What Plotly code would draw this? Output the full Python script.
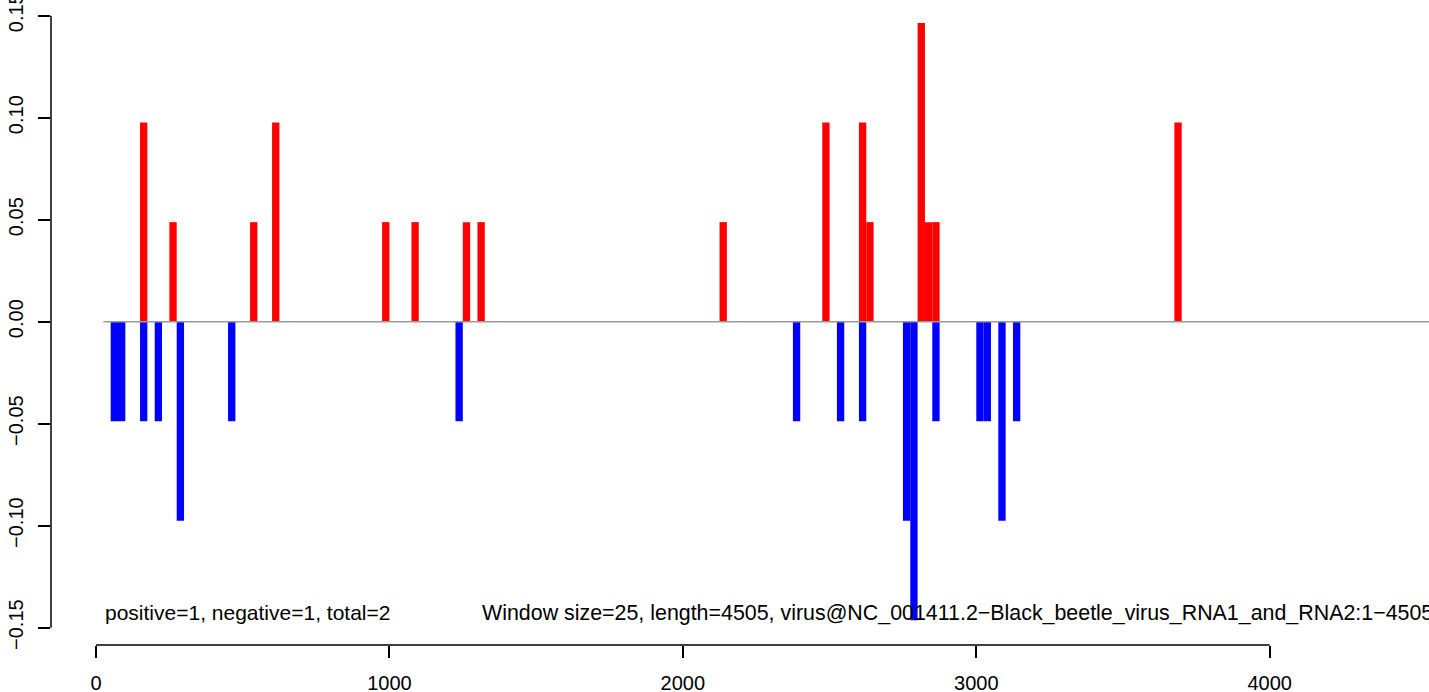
import plotly.graph_objects as go

# ---- data (window start positions, window size 25) ----
WINDOW_SIZE = 25
SEQ_LENGTH = 4505

pos_starts = [150, 250, 525, 600, 975, 1075, 1250, 1300, 2125, 2475,
              2600, 2625, 2800, 2825, 2850, 3675]
pos_values = [0.0976, 0.0488, 0.0488, 0.0976, 0.0488, 0.0488, 0.0488, 0.0488, 0.0488, 0.0976,
              0.0976, 0.0488, 0.1464, 0.0488, 0.0488, 0.0976]

neg_starts = [50, 75, 150, 200, 275, 450, 1225, 2375, 2525, 2600,
              2750, 2775, 2850, 3000, 3025, 3075, 3125]
neg_values = [-0.0488, -0.0488, -0.0488, -0.0488, -0.0976, -0.0488, -0.0488, -0.0488, -0.0488, -0.0488,
              -0.0976, -0.1464, -0.0488, -0.0488, -0.0488, -0.0976, -0.0488]

x_ticks = [0, 1000, 2000, 3000, 4000]
y_ticks = [-0.15, -0.10, -0.05, 0.00, 0.05, 0.10, 0.15]
y_ticktext = [("\u2212" if v < 0 else "") + f"{abs(v):.2f}" for v in y_ticks]

summary_text = "positive=1, negative=1, total=2"
info_text = ("Window size=25, length=4505, virus@NC_001411.2\u2212Black_beetle_virus_"
             "RNA1_and_RNA2:1\u22124505")

FONT = "Liberation Sans, Arial, Helvetica, sans-serif"

fig = go.Figure()

fig.add_trace(go.Bar(
    x=[s + WINDOW_SIZE / 2 for s in neg_starts], y=neg_values,
    width=WINDOW_SIZE, marker=dict(color="#0000FF", line=dict(width=0)),
    showlegend=False, hoverinfo="x+y"))
fig.add_trace(go.Bar(
    x=[s + WINDOW_SIZE / 2 for s in pos_starts], y=pos_values,
    width=WINDOW_SIZE, marker=dict(color="#FF0000", line=dict(width=0)),
    showlegend=False, hoverinfo="x+y"))

# zero reference line
fig.add_shape(type="line", xref="x", yref="y",
              x0=WINDOW_SIZE, x1=SEQ_LENGTH * 1.02, y0=0, y1=0,
              line=dict(color="#999999", width=1.5), layer="above")

# R-style axis lines spanning only the tick range
fig.add_shape(type="line", xref="paper", yref="y",
              x0=0, x1=0, y0=min(y_ticks), y1=max(y_ticks),
              line=dict(color="black", width=1.5))
fig.add_shape(type="line", xref="x", yref="paper",
              x0=min(x_ticks), x1=max(x_ticks), y0=0, y1=0,
              line=dict(color="black", width=1.5))

fig.add_annotation(x=WINDOW_SIZE, y=-0.1428, xref="x", yref="y",
                   text=summary_text, showarrow=False,
                   xanchor="left", yanchor="middle",
                   font=dict(family=FONT, size=21, color="black"))
fig.add_annotation(x=1308, y=-0.1428, xref="x", yref="y",
                   text=info_text, showarrow=False,
                   xanchor="left", yanchor="middle",
                   font=dict(family=FONT, size=21.4, color="black"))

fig.update_layout(
    width=1429, height=692,
    margin=dict(l=51, r=0, t=0, b=47, pad=0),
    paper_bgcolor="white", plot_bgcolor="white",
    barmode="overlay",
    font=dict(family=FONT, size=20, color="black"),
    xaxis=dict(range=[-153.4, 4542.8], tickvals=x_ticks,
               ticktext=[str(v) for v in x_ticks],
               ticks="outside", ticklen=12, tickwidth=1.5, tickcolor="black",
               showgrid=False, zeroline=False, showline=False,
               automargin=False, ticklabeloverflow="allow",
               tickfont=dict(family=FONT, size=20, color="black"),
               ticklabelstandoff=8),
    yaxis=dict(range=[-0.1585, 0.1577], tickvals=y_ticks, ticktext=y_ticktext,
               ticks="outside", ticklen=12, tickwidth=1.5, tickcolor="black",
               tickangle=-90, automargin=False, ticklabeloverflow="allow",
               showgrid=False, zeroline=False, showline=False,
               tickfont=dict(family=FONT, size=20, color="black"),
               ticklabelstandoff=7),
)

fig.write_html(
    "out.html",
    config={"displayModeBar": False},
    post_script="document.body.style.margin='0px';document.body.style.overflow='hidden';",
)
